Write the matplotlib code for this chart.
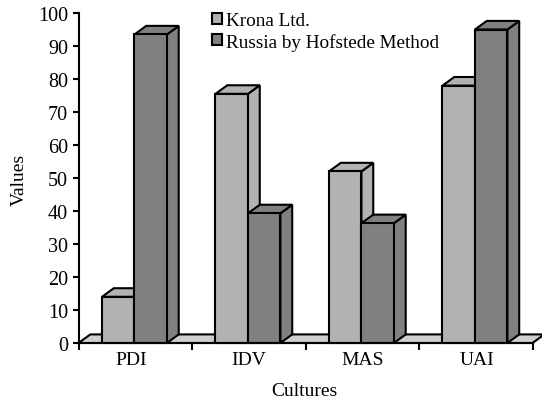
import numpy as np
import matplotlib
matplotlib.use("Agg")
import matplotlib.pyplot as plt
from matplotlib.patches import Polygon, Patch

plt.rcParams['font.family'] = ['Liberation Serif', 'DejaVu Serif']

categories = ['PDI', 'IDV', 'MAS', 'UAI']
krona = [14, 75.5, 52, 78]
russia = [93.5, 39.3, 36.3, 95]
series_names = ['Krona Ltd.', 'Russia by Hofstede Method']
y_ticks = np.arange(0, 101, 10)

W, H = 542, 402
LIGHT = '#b2b2b2'
DARK = '#808080'
FLOOR = '#cfcfcf'
LW = 1.5

fig = plt.figure(figsize=(W / 100, H / 100), dpi=100)
ax = fig.add_axes([78.5 / W, 1 - 344 / H, 454 / W, 330 / H])
ax.set_xlim(0, 4)
ax.set_ylim(0, 100)

# depth of the fake 3d effect, in data units
dx = 0.104
dy = 2.6
bar_w = 0.286
start = 0.207


def box(x, v, color, z):
    front = [(x, 0), (x + bar_w, 0), (x + bar_w, v), (x, v)]
    top = [(x, v), (x + bar_w, v), (x + bar_w + dx, v + dy), (x + dx, v + dy)]
    side = [(x + bar_w, 0), (x + bar_w + dx, dy), (x + bar_w + dx, v + dy), (x + bar_w, v)]
    for pts in (side, top, front):
        ax.add_patch(Polygon(pts, closed=True, facecolor=color, edgecolor='black',
                             linewidth=LW, joinstyle='miter', zorder=z, clip_on=False))


# floor
ax.add_patch(Polygon([(0, 0), (dx, dy), (4 + dx, dy), (4, 0)], closed=True, facecolor=FLOOR,
                     edgecolor='black', linewidth=LW, zorder=1, clip_on=False))

for i in range(len(categories)):
    box(i + start, krona[i], LIGHT, 2 + i)
    box(i + start + bar_w, russia[i], DARK, 2.5 + i)

for s in ('top', 'right'):
    ax.spines[s].set_visible(False)
for s in ('left', 'bottom'):
    ax.spines[s].set_linewidth(LW)
    ax.spines[s].set_zorder(10)

ax.set_yticks(y_ticks)
ax.set_xticks(range(5))
ax.set_xticklabels([])
# PDI sits a little left of its group centre in the original
ax.set_xticks([0.46, 1.5, 2.5, 3.51], categories, minor=True)
ax.tick_params(axis='x', which='major', length=5, width=LW)
ax.tick_params(axis='x', which='minor', length=0, pad=6, labelsize=14)
ax.tick_params(axis='y', length=4.5, width=LW, pad=3, labelsize=14.5)

fig.text(304 / W, 1 - 392 / H, 'Cultures', ha='center', va='center', fontsize=14)
fig.text(19 / W, 1 - 180 / H, 'Values', ha='center', va='center', rotation=90, fontsize=14)

handles = [Patch(facecolor=LIGHT, edgecolor='black', linewidth=LW),
           Patch(facecolor=DARK, edgecolor='black', linewidth=LW)]
ax.legend(handles, series_names, loc='upper left', bbox_to_anchor=(212 / W, 1 - 13 / H),
          bbox_transform=fig.transFigure, frameon=False, fontsize=13.8, borderpad=0,
          borderaxespad=0, labelspacing=0.2, handlelength=0.5, handleheight=0.5,
          handletextpad=0.22)

fig.savefig('out.png', dpi=100)
